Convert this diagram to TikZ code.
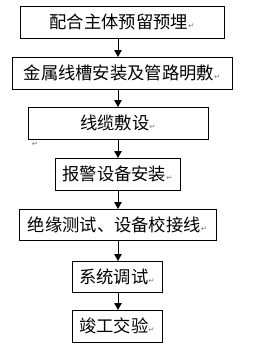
\documentclass[tikz,border=0pt]{standalone}
\usepackage{fontspec}
\usetikzlibrary{arrows.meta}
\newfontfamily\cjk{Noto Sans CJK SC}
\newfontfamily\symf{DejaVu Sans}
\newcommand{\retmark}{{\symf\color{gray}\fontsize{7.5bp}{8bp}\selectfont ↵}}
\tikzset{
  x=1bp, y=-1bp,
  stepbox/.style={draw=black, line width=0.9bp, inner sep=0pt, outer sep=0pt,
    font=\cjk\fontsize{17.3bp}{20bp}\selectfont},
  arr/.style={line width=0.9bp, -{Triangle[length=7bp,width=7.5bp]}}
}
\begin{document}
\begin{tikzpicture}
\useasboundingbox (0,0) rectangle (256,357);
\node[stepbox, minimum width=204bp, minimum height=32bp] (b1) at (122,22) {配合主体预留预埋\retmark};
\node[stepbox, minimum width=220bp, minimum height=32bp] (b2) at (122,73) {金属线槽安装及管路明敷\retmark};
\node[stepbox, minimum width=180bp, minimum height=32bp] (b3) at (118,123) {线缆敷设\retmark};
\node[stepbox, minimum width=125bp, minimum height=32bp] (b4) at (117.5,174) {报警设备安装\retmark};
\node[stepbox, minimum width=197bp, minimum height=31bp] (b5) at (117.5,224.5) {绝缘测试、设备校接线\retmark};
\node[stepbox, minimum width=90bp, minimum height=31bp] (b6) at (117,276.5) {系统调试\retmark};
\node[stepbox, minimum width=90bp, minimum height=32bp] (b7) at (117,326) {竣工交验\retmark};
\node[inner sep=0pt] (stray) at (35,144) {\retmark};
\coordinate (ax) at (118,0);
\draw[arr] (b1.south -| ax) -- (b2.north -| ax);
\draw[arr] (b2.south -| ax) -- (b3.north -| ax);
\draw[arr] (b3.south -| ax) -- (b4.north -| ax);
\draw[arr] (b4.south -| ax) -- (b5.north -| ax);
\draw[arr] (b5.south -| ax) -- (b6.north -| ax);
\draw[arr] (b6.south -| ax) -- (b7.north -| ax);
\end{tikzpicture}
\end{document}
